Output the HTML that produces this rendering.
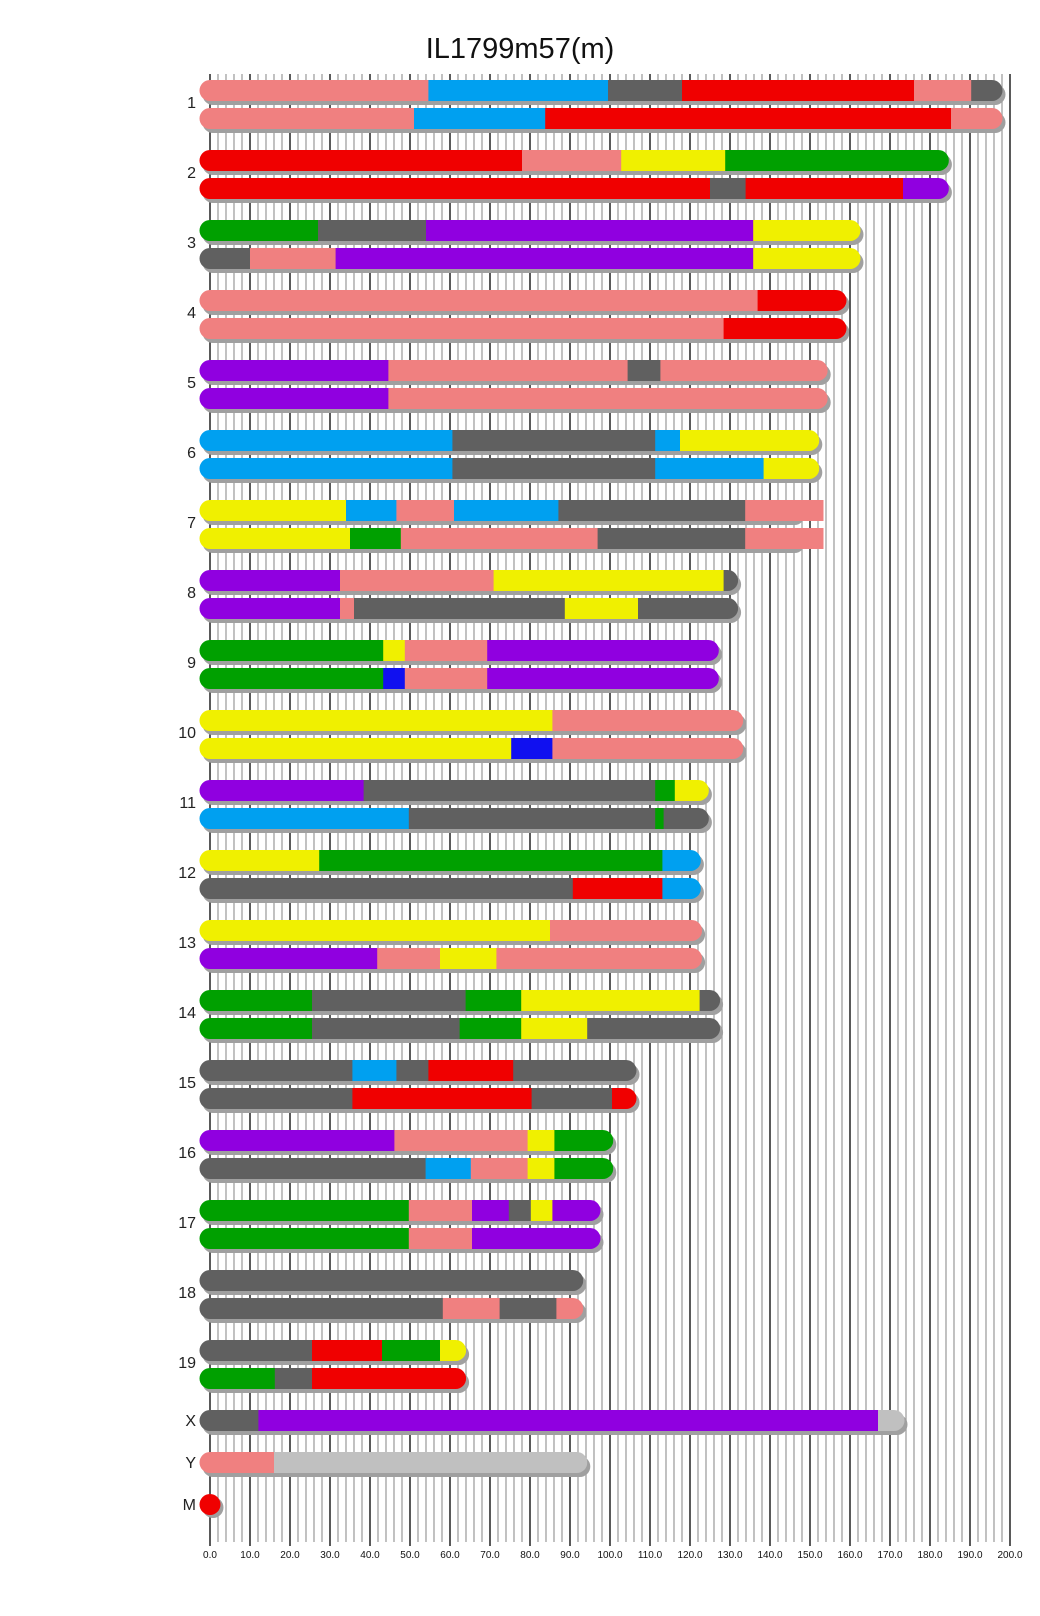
<!DOCTYPE html>
<html><head><meta charset="utf-8"><style>
body{margin:0;background:#fff;}
svg{display:block;}
text{font-family:"Liberation Sans",sans-serif;}
</style></head><body>
<svg id="chart" width="1040" height="1616" xmlns="http://www.w3.org/2000/svg">
<text x="520" y="58" text-anchor="middle" font-size="29" fill="#111">IL1799m57(m)</text>
<g id="grid"></g>
<g id="axis"></g>
<g id="bars"></g>
</svg>
<script>
// chromosome names and lengths (Mb)
const chromNames = ["1","2","3","4","5","6","7","8","9","10","11","12","13","14","15","16","17","18","19","X","Y","M"];
const chromLengths = [195.5,182.1,160.0,156.5,151.8,149.7,145.4,129.4,124.6,130.7,122.1,120.1,120.4,124.9,104.0,98.2,95.0,90.7,61.4,171.0,91.7,0];
// haplotype segments: [start, end, color-key]; end null = chromosome end
const hapA = [
 [[0,54.6,"P"],[54.6,99.5,"B"],[99.5,118,"G"],[118,176,"R"],[176,190.3,"P"],[190.3,null,"G"]],
 [[0,78,"R"],[78,102.8,"P"],[102.8,128.8,"Y"],[128.8,null,"N"]],
 [[0,27,"N"],[27,54,"G"],[54,135.8,"U"],[135.8,null,"Y"]],
 [[0,136.9,"P"],[136.9,null,"R"]],
 [[0,44.6,"U"],[44.6,104.4,"P"],[104.4,112.6,"G"],[112.6,null,"P"]],
 [[0,60.6,"B"],[60.6,111.3,"G"],[111.3,117.5,"B"],[117.5,null,"Y"]],
 [[0,34,"Y"],[34,46.6,"B"],[46.6,61,"P"],[61,87.1,"B"],[87.1,133.8,"G"],[133.8,153.25,"P"]],
 [[0,32.5,"U"],[32.5,70.9,"P"],[70.9,128.4,"Y"],[128.4,null,"G"]],
 [[0,43.3,"N"],[43.3,48.7,"Y"],[48.7,69.3,"P"],[69.3,null,"U"]],
 [[0,85.6,"Y"],[85.6,null,"P"]],
 [[0,38.4,"U"],[38.4,111.3,"G"],[111.3,116.2,"N"],[116.2,null,"Y"]],
 [[0,27.3,"Y"],[27.3,113.1,"N"],[113.1,null,"B"]],
 [[0,85,"Y"],[85,null,"P"]],
 [[0,25.5,"N"],[25.5,63.9,"G"],[63.9,77.8,"N"],[77.8,122.4,"Y"],[122.4,null,"G"]],
 [[0,35.6,"G"],[35.6,46.6,"B"],[46.6,54.6,"G"],[54.6,75.8,"R"],[75.8,null,"G"]],
 [[0,46.1,"U"],[46.1,79.4,"P"],[79.4,86.1,"Y"],[86.1,null,"N"]],
 [[0,49.7,"N"],[49.7,65.5,"P"],[65.5,74.7,"U"],[74.7,80.2,"G"],[80.2,85.6,"Y"],[85.6,null,"U"]],
 [[0,null,"G"]],
 [[0,25.5,"G"],[25.5,43,"R"],[43,57.5,"N"],[57.5,null,"Y"]],
 [[0,12.1,"G"],[12.1,167,"U"],[167,null,"L"]],
 [[0,16,"P"],[16,null,"L"]],
 [[0,null,"R"]]
];
const hapB = [
 [[0,51,"P"],[51,83.8,"B"],[83.8,185.25,"R"],[185.25,null,"P"]],
 [[0,125,"R"],[125,133.9,"G"],[133.9,173.25,"R"],[173.25,null,"U"]],
 [[0,10,"G"],[10,31.4,"P"],[31.4,135.8,"U"],[135.8,null,"Y"]],
 [[0,128.4,"P"],[128.4,null,"R"]],
 [[0,44.6,"U"],[44.6,null,"P"]],
 [[0,60.6,"B"],[60.6,111.3,"G"],[111.3,138.4,"B"],[138.4,null,"Y"]],
 [[0,35,"Y"],[35,47.7,"N"],[47.7,96.9,"P"],[96.9,133.8,"G"],[133.8,153.25,"P"]],
 [[0,32.5,"U"],[32.5,36,"P"],[36,88.7,"G"],[88.7,107,"Y"],[107,null,"G"]],
 [[0,43.3,"N"],[43.3,48.7,"D"],[48.7,69.3,"P"],[69.3,null,"U"]],
 [[0,75.3,"Y"],[75.3,85.6,"D"],[85.6,null,"P"]],
 [[0,49.7,"B"],[49.7,111.3,"G"],[111.3,113.4,"N"],[113.4,null,"G"]],
 [[0,90.7,"G"],[90.7,113.1,"R"],[113.1,null,"B"]],
 [[0,41.8,"U"],[41.8,57.5,"P"],[57.5,71.6,"Y"],[71.6,null,"P"]],
 [[0,25.5,"N"],[25.5,62.4,"G"],[62.4,77.8,"N"],[77.8,94.3,"Y"],[94.3,null,"G"]],
 [[0,35.6,"G"],[35.6,80.4,"R"],[80.4,100.5,"G"],[100.5,null,"R"]],
 [[0,53.9,"G"],[53.9,65.2,"B"],[65.2,79.4,"P"],[79.4,86.1,"Y"],[86.1,null,"N"]],
 [[0,49.7,"N"],[49.7,65.5,"P"],[65.5,null,"U"]],
 [[0,58.2,"G"],[58.2,72.4,"P"],[72.4,86.6,"G"],[86.6,null,"P"]],
 [[0,16.2,"N"],[16.2,25.5,"G"],[25.5,null,"R"]],
 null,null,null
];
const tickValues = [0,10,20,30,40,50,60,70,80,90,100,110,120,130,140,150,160,170,180,190,200];
const colorMap = {P:"#F08080",B:"#00A0F0",G:"#606060",R:"#F00000",Y:"#F0F000",N:"#00A000",U:"#9000E0",D:"#1010F0",L:"#C0C0C0"};

const NS="http://www.w3.org/2000/svg";
const X0=210, PX=4, CAP=10.5, BH=21;
function xs(v){return X0+v*PX;}
function mk(tag,attrs,parent){const e=document.createElementNS(NS,tag);for(const k in attrs)e.setAttribute(k,attrs[k]);parent.appendChild(e);return e;}

const grid=document.getElementById('grid');
for(let v=0; v<=200; v+=2){
  const major = v%10===0;
  const l=mk('line',{x1:xs(v),x2:xs(v),y1:74,y2:major?1546:1542,stroke:major?'#000':'#A0A0A0','stroke-width':1.3},grid);
  
  
}
const axis=document.getElementById('axis');
tickValues.forEach(v=>{
  const t=mk('text',{x:xs(v),y:1558,'text-anchor':'middle','font-size':10,fill:'#111'},axis);
  t.textContent=v.toFixed(1);
  
  
});

const bars=document.getElementById('bars');
const defs=mk('defs',{},bars);
function drawBar(ci,hi,top,segs,len){
  const x1=X0-CAP, x2=xs(len)+CAP;
  const g=mk('g',{},bars);
  
  
  mk('rect',{x:x1+3,y:top+4,width:x2-x1,height:BH,rx:CAP,fill:'#A0A0A0'},g);
  const id='c'+ci+'_'+hi;
  const cp=mk('clipPath',{id:id},defs);
  mk('rect',{x:x1,y:top,width:x2-x1,height:BH,rx:CAP},cp);
  segs.forEach((s)=>{
    const a = s[0]===0 ? x1 : xs(s[0]);
    const endV = s[1];
    let b = endV===null ? x2 : xs(endV);
    const over = endV!==null && xs(endV)>xs(len);
    const r=mk('rect',{x:a,y:top,width:Math.max(0,b-a+(endV===null?0:0.5)),height:BH,fill:colorMap[s[2]]},g);
    if(!over) r.setAttribute('clip-path','url(#'+id+')');
    
    
  });
}
chromNames.forEach((name,ci)=>{
  let top, labelY;
  if(ci<19){top=80+ci*70; labelY=top+28;}
  else if(ci===19){top=1410; labelY=top+16;}
  else if(ci===20){top=1452; labelY=top+16;}
  else {top=1494; labelY=top+16;}
  const lab=mk('text',{x:196,y:labelY,'text-anchor':'end','font-size':16,fill:'#222'},bars);
  lab.textContent=name;
  
  
  if(name==='M'){
    const sh=mk('circle',{cx:213,cy:top+13.5,r:CAP,fill:'#A0A0A0'},bars);
    
    
    const c=mk('circle',{cx:210,cy:top+10.5,r:CAP,fill:colorMap[hapA[ci][0][2]]},bars);
    
    
    return;
  }
  drawBar(ci,0,top,hapA[ci],chromLengths[ci]);
  if(hapB[ci]) drawBar(ci,1,top+28,hapB[ci],chromLengths[ci]);
});
</script>
</body></html>
